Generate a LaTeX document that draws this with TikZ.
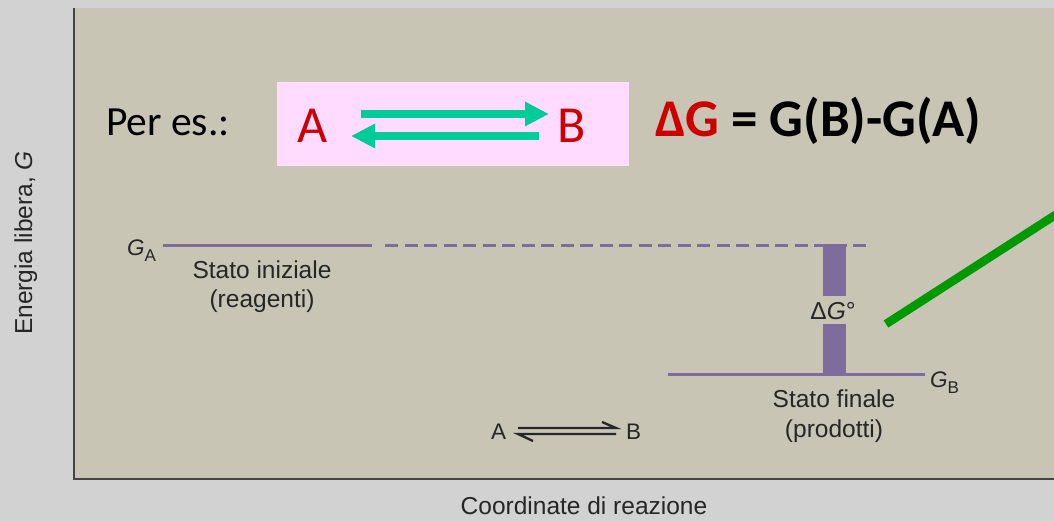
\documentclass[tikz,border=0pt]{standalone}
\usepackage{fontspec}
\setmainfont{Carlito}
\newfontfamily\helv{Liberation Sans}
\usetikzlibrary{arrows.meta}
\definecolor{outergray}{HTML}{D2D2D2}
\definecolor{beige}{HTML}{C8C5B5}
\definecolor{axisgray}{HTML}{444444}
\definecolor{pinkbox}{HTML}{FFDCFF}
\definecolor{redtxt}{HTML}{CC0000}
\definecolor{arrowgreen}{HTML}{00CC99}
\definecolor{linegreen}{HTML}{009900}
\definecolor{levelpurple}{HTML}{7D6D9C}
\tikzset{
  slide/.style={inner sep=0pt, outer sep=0pt, font=\fontsize{41.5}{48}\selectfont},
  figtxt/.style={inner sep=0pt, outer sep=0pt, font=\helv\fontsize{24.5}{29}\selectfont, text=black!85},
  level/.style={levelpurple, line width=3pt},
  eqarrow/.style={arrowgreen, line width=8pt, -{Triangle[length=24pt,width=23pt]}},
}
\begin{document}
\begin{tikzpicture}[x=1pt,y=-1pt]
\useasboundingbox (0,0) rectangle (1054,521);
\fill[outergray] (0,0) rectangle (1054,521);
\fill[beige] (73,8) rectangle (1054,479);
\draw[axisgray, line width=2.6pt] (74,8) -- (74,479) -- (1054,479);

% slide overlay
\node[slide, anchor=base west] (peres) at (106,136) {Per es.:};
\node[fill=pinkbox, inner sep=0pt, minimum width=352pt, minimum height=84pt, anchor=north west] (box) at (277,82) {};
\node[slide, anchor=base west, text=redtxt, font=\fontsize{52}{60}\selectfont] (A) at (297,143) {A};
\node[slide, anchor=base west, text=redtxt, font=\fontsize{52}{60}\selectfont] (B) at (557,143) {B};
\coordinate (f1) at (361,114);
\coordinate (f2) at (549,114);
\coordinate (b1) at (539,136);
\coordinate (b2) at (351,136);
\draw[eqarrow] (f1) -- (f2);
\draw[eqarrow] (b1) -- (b2);
\node[slide, anchor=base west, font=\bfseries\fontsize{53}{60}\selectfont] (dg) at (655,137) {\textcolor{redtxt}{ΔG} = G(B)-G(A)};

% energy diagram
\coordinate (ga1) at (163,246);
\coordinate (ga2) at (372,246);
\coordinate (gd1) at (385,246);
\coordinate (gd2) at (867,246);
\coordinate (gb1) at (668,374);
\coordinate (gb2) at (925,374);
\draw[level] (ga1) -- (ga2);
\draw[level, dash pattern=on 13pt off 6.5pt] (gd1) -- (gd2);
\draw[level] (gb1) -- (gb2);
\node[figtxt, anchor=base] (dgo) at (833,319) {Δ\textit{G}°};
\fill[levelpurple] (823,244.5) rectangle (846,296);
\fill[levelpurple] (823,324) rectangle (846,374);
\node[figtxt, anchor=base west, font=\helv\fontsize{22.5}{26}\selectfont] (GA) at (127,255) {\textit{G}\raisebox{-6pt}{\fontsize{17}{18}\selectfont A}};
\node[figtxt, anchor=base west, font=\helv\fontsize{22.5}{26}\selectfont] (GB) at (930,387) {\textit{G}\raisebox{-6pt}{\fontsize{17}{18}\selectfont B}};
\node[figtxt, anchor=base] (si) at (262,278) {Stato iniziale};
\node[figtxt, anchor=base] (re) at (262,307) {(reagenti)};
\node[figtxt, anchor=base] (sf) at (834,407) {Stato finale};
\node[figtxt, anchor=base] (pr) at (834,437) {(prodotti)};

% small equilibrium
\node[figtxt, anchor=base west, font=\helv\fontsize{22.5}{26}\selectfont] (sA) at (491,439) {A};
\node[figtxt, anchor=base west, font=\helv\fontsize{22.5}{26}\selectfont] (sB) at (626,439) {B};
\coordinate (u1) at (518,428);
\coordinate (u2) at (616,428);
\coordinate (u3) at (602,422);
\coordinate (l1) at (616,434);
\coordinate (l2) at (518,434);
\coordinate (l3) at (533,441);
\draw[black!85, line width=2.3pt] (u1) -- (u2) -- (u3);
\draw[black!85, line width=2.3pt] (l1) -- (l2) -- (l3);

% axis labels
\node[figtxt, anchor=base] (xl) at (584,514) {Coordinate di reazione};
\node[figtxt, anchor=base, rotate=90] (yl) at (32,243) {Energia libera, \textit{G}};

% green pointer
\coordinate (p1) at (886,324);
\coordinate (p2) at (1060,212);
\draw[linegreen, line width=8.5pt] (p1) -- (p2);
\end{tikzpicture}
\end{document}
